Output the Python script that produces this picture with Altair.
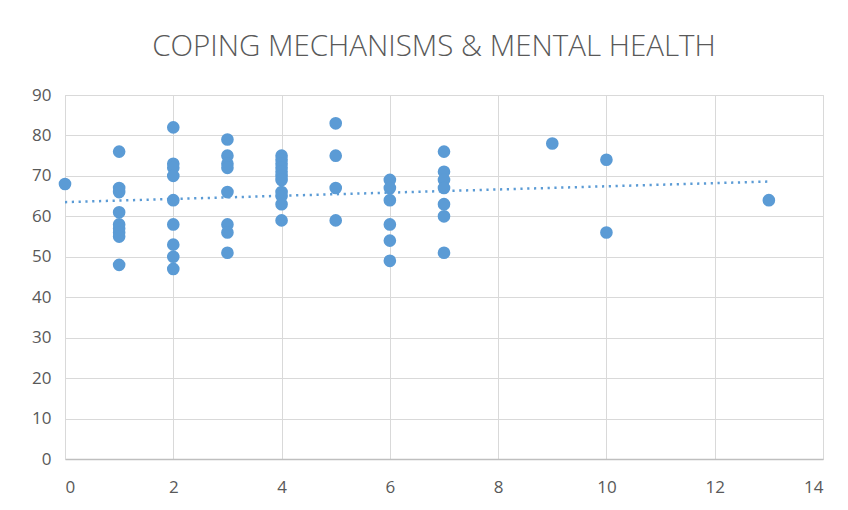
import altair as alt
import pandas as pd

# Number of coping mechanisms (x) and mental-health score (y)
x0 = [0]
y0 = [68]
x1 = [1] * 9
y1 = [76, 67, 66, 61, 58, 57, 56, 55, 48]
x2 = [2] * 9
y2 = [82, 73, 72, 70, 64, 58, 53, 50, 47]
x3 = [3] * 8
y3 = [79, 75, 73, 72, 66, 58, 56, 51]
x4 = [4] * 11
y4 = [75, 74, 73, 72, 71, 70, 69, 66, 65, 63, 59]
x5 = [5] * 4
y5 = [83, 75, 67, 59]
x6 = [6] * 6
y6 = [69, 67, 64, 58, 54, 49]
x7 = [7] * 7
y7 = [76, 71, 69, 67, 63, 60, 51]
x_rest = [9, 10, 10, 13]
y_rest = [78, 74, 56, 64]

xs = x0 + x1 + x2 + x3 + x4 + x5 + x6 + x7 + x_rest
ys = y0 + y1 + y2 + y3 + y4 + y5 + y6 + y7 + y_rest
df = pd.DataFrame({"coping": xs, "health": ys})

x_ticks = [0, 2, 4, 6, 8, 10, 12, 14]
y_ticks = [0, 10, 20, 30, 40, 50, 60, 70, 80, 90]

blue = "#5b9bd5"
grey_text = "#595959"
font = "Open Sans"

xscale = alt.Scale(domain=[0, 14], nice=False, zero=False)
yscale = alt.Scale(domain=[0, 90], nice=False)

xaxis = alt.Axis(values=x_ticks, title=None, grid=True, gridColor="#d9d9d9",
                 gridWidth=1, domainColor="#bfbfbf", domainWidth=1.5, ticks=False,
                 labelPadding=20, labelFontSize=17, labelColor=grey_text,
                 labelFont=font)
yaxis = alt.Axis(values=y_ticks, title=None, grid=True, gridColor="#d9d9d9",
                 gridWidth=1, domainColor="#d9d9d9", ticks=False,
                 labelPadding=14, labelFontSize=17, labelColor=grey_text,
                 labelFont=font)

points = alt.Chart(df).mark_circle(size=160, color=blue, opacity=1).encode(
    x=alt.X("coping:Q", scale=xscale, axis=xaxis),
    y=alt.Y("health:Q", scale=yscale, axis=yaxis),
)

trend = alt.Chart(df).transform_regression(
    "coping", "health", method="linear"
).mark_line(color=blue, strokeWidth=2.5, strokeDash=[2.2, 4.6]).encode(
    x=alt.X("coping:Q", scale=xscale),
    y=alt.Y("health:Q", scale=yscale),
)

chart = (trend + points).properties(
    width=758,
    height=364,
    autosize=alt.AutoSizeParams(type="none"),
    padding={"left": 65, "top": 95, "right": 25, "bottom": 51},
    title=alt.TitleParams(
        "COPING MECHANISMS & MENTAL HEALTH",
        fontSize=29.5, font=font, fontWeight=300, color=grey_text,
        anchor="middle", offset=24, dx=-10,
    ),
).configure_view(stroke=None).configure(background="white")

chart.save("out.html", embed_options={"renderer": "svg", "actions": False})
